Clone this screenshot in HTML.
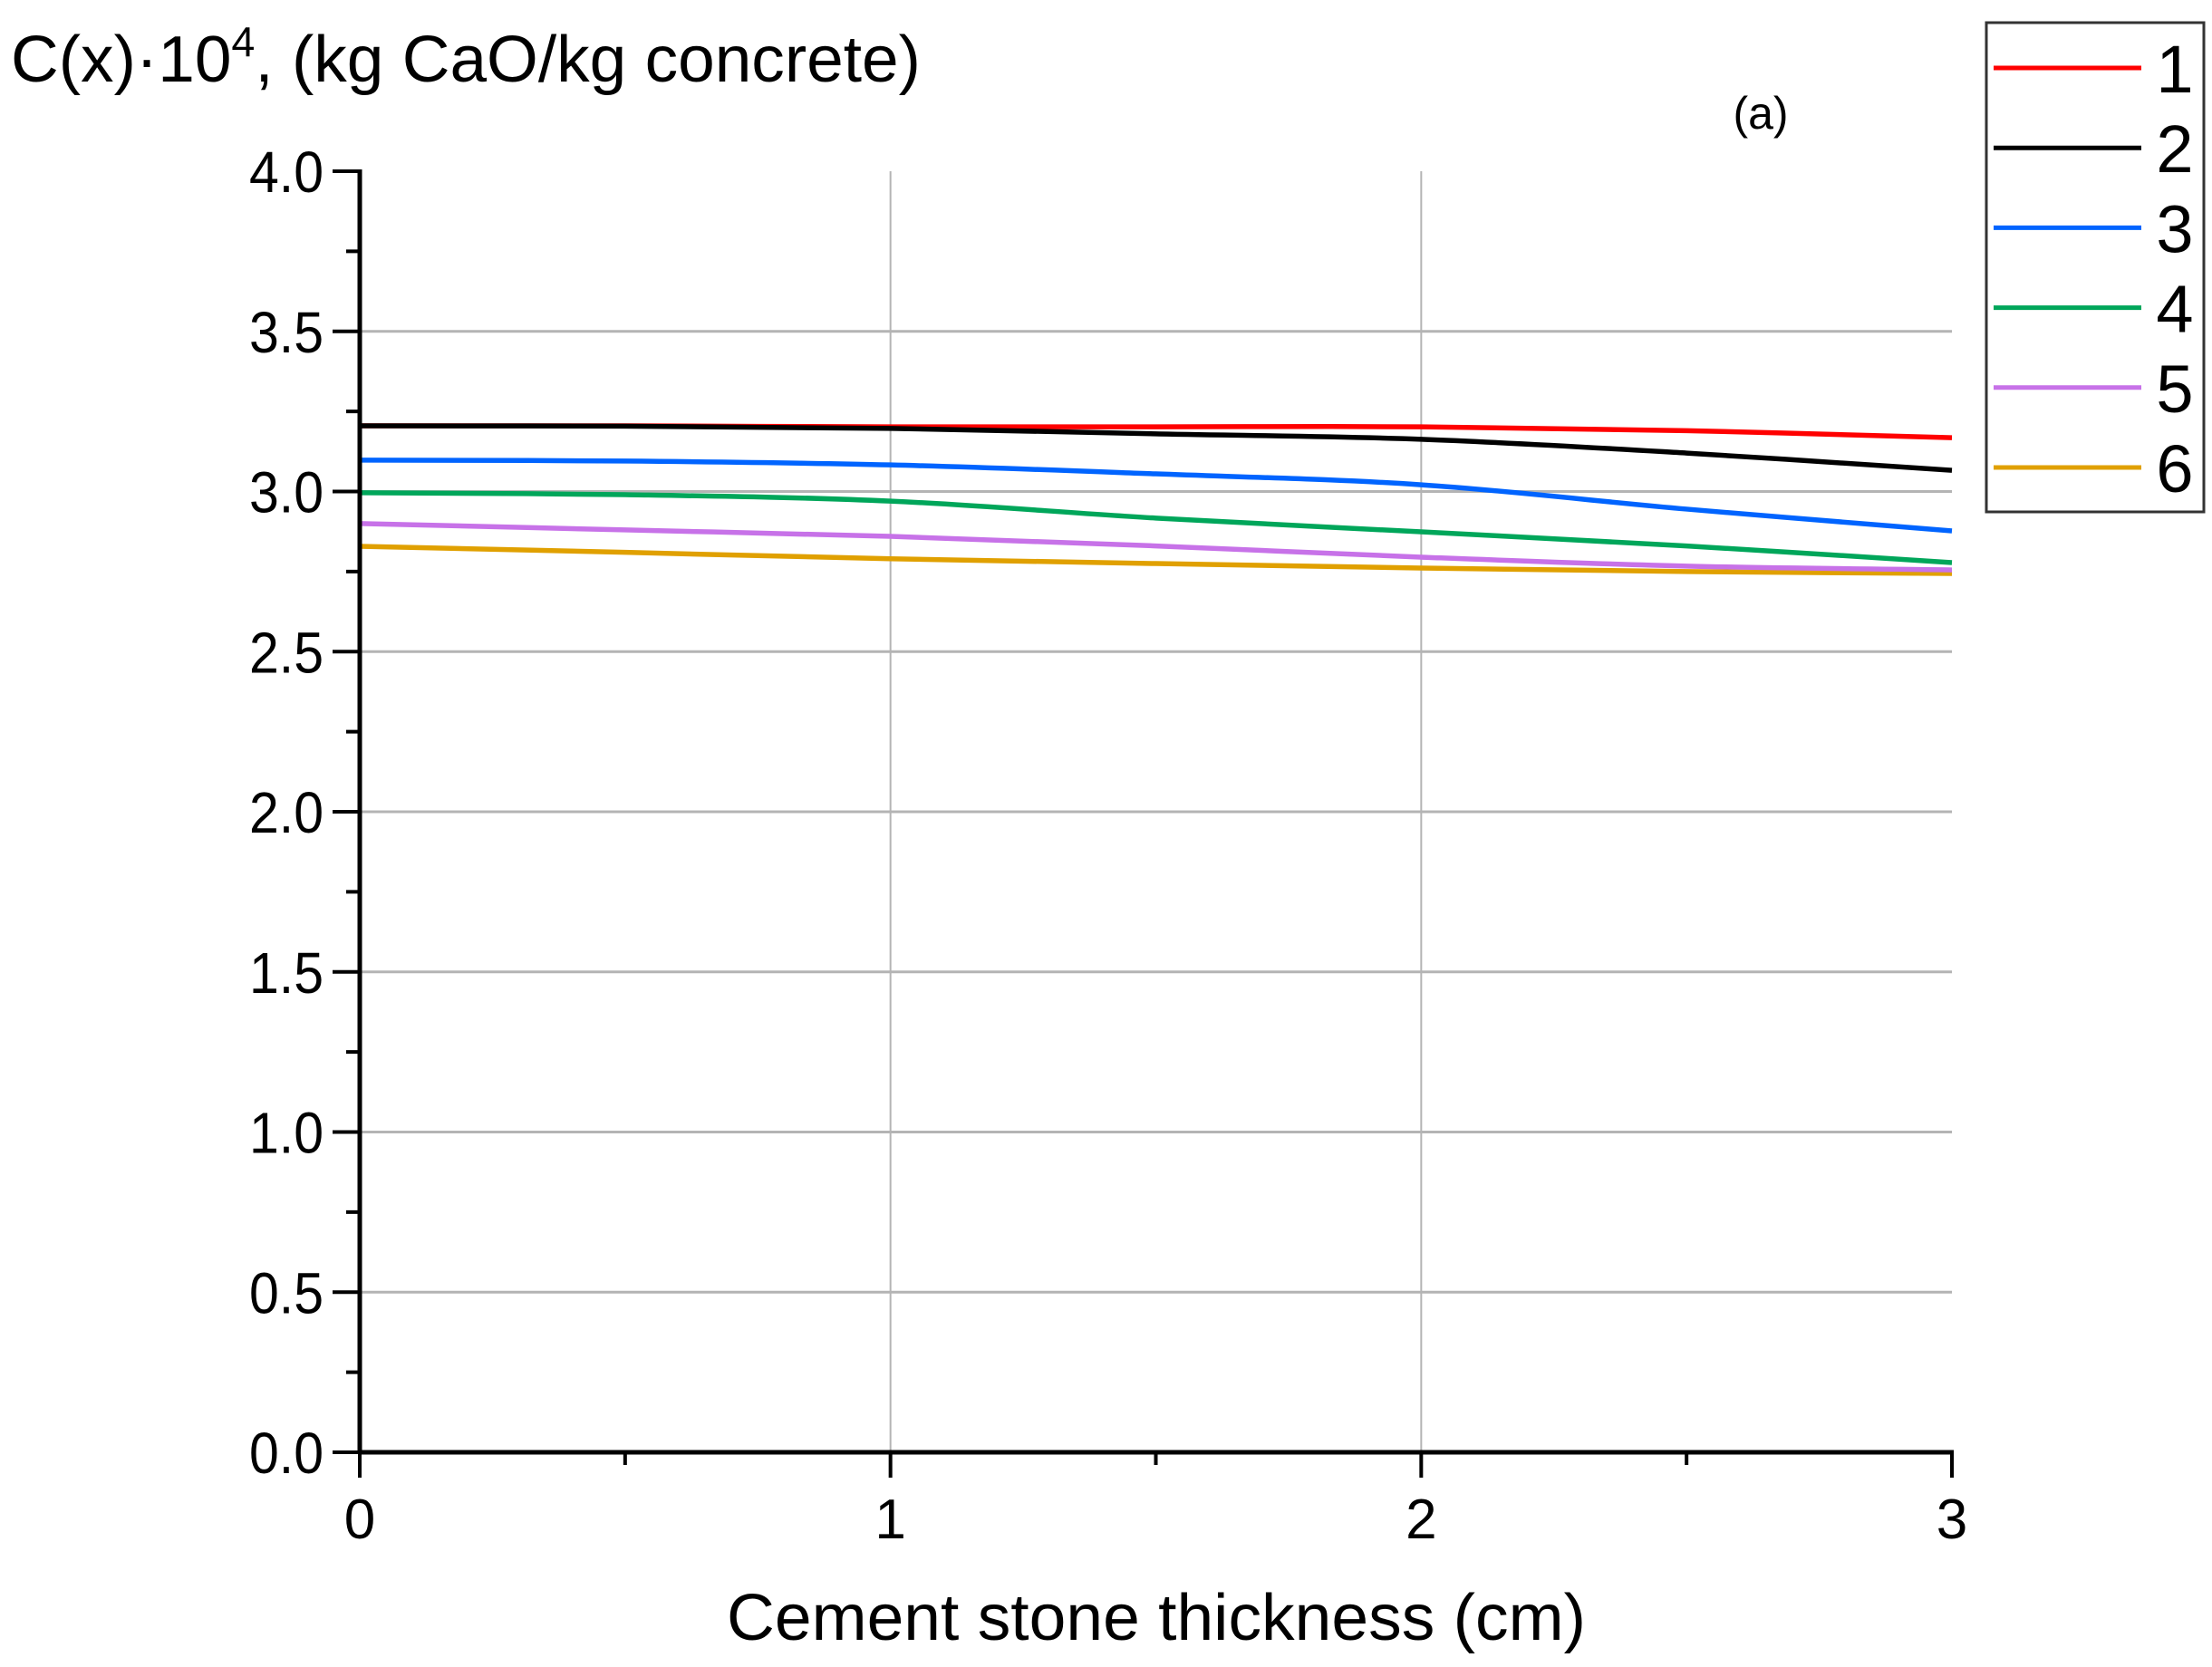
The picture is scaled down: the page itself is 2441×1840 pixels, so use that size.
<!DOCTYPE html>
<html><head><meta charset="utf-8"><style>
html,body{margin:0;padding:0;background:#fff;}
svg{display:block;font-family:"Liberation Sans",Arial,sans-serif;}
</style></head><body>
<svg id="chart" width="2441" height="1840" viewBox="0 0 2441 1840" xmlns="http://www.w3.org/2000/svg">
<text x="12" y="90" font-size="72" textLength="1004" lengthAdjust="spacingAndGlyphs">C(x)·10<tspan dy="-28" font-size="46">4</tspan><tspan dy="28">, (kg CaO/kg concrete)</tspan></text>
<text x="1943" y="142" font-size="50" text-anchor="middle">(a)</text>
<text x="802" y="1810" font-size="72" textLength="948" lengthAdjust="spacingAndGlyphs">Cement stone thickness (cm)</text>
<g id="grid"></g>
<g id="series"></g>
<g id="axes"></g>
<g id="legend"></g>
</svg>
<script>
const xs = [0, 0.5, 1, 1.5, 2, 2.5, 3];
const s1 = [3.205, 3.205, 3.202, 3.202, 3.202, 3.19, 3.168];
const s2 = [3.205, 3.204, 3.197, 3.18, 3.163, 3.12, 3.066];
const s3 = [3.098, 3.095, 3.083, 3.055, 3.021, 2.945, 2.877];
const s4 = [2.996, 2.99, 2.970, 2.917, 2.874, 2.83, 2.778];
const s5 = [2.90, 2.88, 2.86, 2.83, 2.795, 2.767, 2.755];
const s6 = [2.829, 2.81, 2.79, 2.775, 2.761, 2.75, 2.744];
const seriesNames = ["1", "2", "3", "4", "5", "6"];
const colors = ["#ff0000", "#000000", "#0064ff", "#00a65a", "#c772e8", "#e0a000"];
const yTicks = ["0.0","0.5","1.0","1.5","2.0","2.5","3.0","3.5","4.0"];
const xTicks = ["0","1","2","3"];

const X0=397, X1=2154, Y0=1603, Y1=189;
const sx = v => X0 + (v/3)*(X1-X0);
const sy = v => Y0 - (v/4)*(Y0-Y1);
const NS="http://www.w3.org/2000/svg";
function mk(tag, attrs, parent){const e=document.createElementNS(NS,tag);for(const k in attrs)e.setAttribute(k,attrs[k]);parent.appendChild(e);return e;}
const grid=document.getElementById('grid'), axes=document.getElementById('axes'), ser=document.getElementById('series'), leg=document.getElementById('legend');

yTicks.forEach(t=>{const v=parseFloat(t),y=sy(v);
  if(v>0 && v<4){const g=mk('line',{x1:X0,x2:X1,y1:y,y2:y,stroke:'#b4b4b4','stroke-width':3},grid);
  
  }
  const tk=mk('line',{x1:X0-30,x2:X0,y1:y,y2:y,stroke:'#000','stroke-width':4},axes);
  
  
  const tx=mk('text',{x:X0-40,y:y+23,'font-size':64,'text-anchor':'end',textLength:82,lengthAdjust:'spacingAndGlyphs'},axes);tx.textContent=t;
  
  
  if(v<4){const m=mk('line',{x1:X0-15,x2:X0,y1:sy(v+0.25),y2:sy(v+0.25),stroke:'#000','stroke-width':4},axes);
  
  }
});
xTicks.forEach(t=>{const v=parseFloat(t),x=sx(v);
  if(v>0 && v<3){const g=mk('line',{x1:x,x2:x,y1:Y1,y2:Y0,stroke:'#b4b4b4','stroke-width':2},grid);
  
  }
  const tk=mk('line',{x1:x,x2:x,y1:Y0,y2:Y0+28,stroke:'#000','stroke-width':4},axes);
  
  
  const tx=mk('text',{x:x,y:1698,'font-size':62,'text-anchor':'middle'},axes);tx.textContent=t;
  
  
  if(v<3){const m=mk('line',{x1:sx(v+0.5),x2:sx(v+0.5),y1:Y0,y2:Y0+14,stroke:'#000','stroke-width':4},axes);
  
  }
});
const ya=mk('line',{x1:X0,x2:X0,y1:Y1-2,y2:Y0+2,stroke:'#000','stroke-width':5},axes);


const xa=mk('line',{x1:X0-2,x2:X1+2,y1:Y0,y2:Y0,stroke:'#000','stroke-width':5},axes);



function pathFor(vals){const p=xs.map((x,i)=>[sx(x),sy(vals[i])]);let d=`M${p[0][0]},${p[0][1]}`;
  for(let i=0;i<p.length-1;i++){const a=p[Math.max(i-1,0)],b=p[i],c=p[i+1],e=p[Math.min(i+2,p.length-1)];
    d+=` C${b[0]+(c[0]-a[0])/6},${b[1]+(c[1]-a[1])/6} ${c[0]-(e[0]-b[0])/6},${c[1]-(e[1]-b[1])/6} ${c[0]},${c[1]}`;}
  return d;}
const all=[s1,s2,s3,s4,s5,s6];
[5,4,3,2,0,1].forEach(i=>{const l=mk('path',{d:pathFor(all[i]),fill:'none',stroke:colors[i],'stroke-width':5.5},ser);
  
  });

const box=mk('rect',{x:2192,y:25,width:240,height:540,fill:'#fff',stroke:'#333','stroke-width':3},leg);


seriesNames.forEach((n,i)=>{const y=75+i*88.2;
  const l=mk('line',{x1:2200,x2:2363,y1:y,y2:y,stroke:colors[i],'stroke-width':5},leg);
  
  
  const t=mk('text',{x:2400,y:y+27,'font-size':74,'text-anchor':'middle'},leg);t.textContent=n;
  
  });
</script>
</body></html>
